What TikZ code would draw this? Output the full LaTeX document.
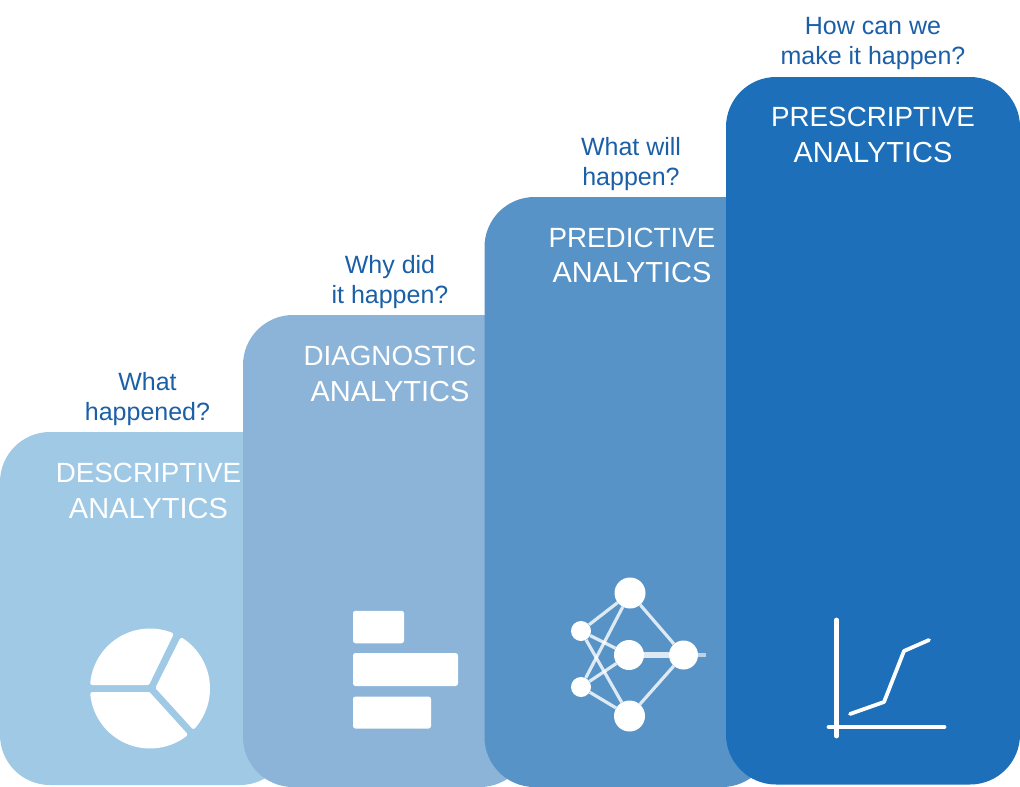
\documentclass[tikz,border=0pt]{standalone}
\usepackage{fontspec}
\setmainfont{Liberation Sans}
\definecolor{cA}{HTML}{9FC9E5}
\definecolor{cB}{HTML}{8BB4D8}
\definecolor{cC}{HTML}{5793C7}
\definecolor{cD}{HTML}{1C6FB8}
\definecolor{cQ}{HTML}{1B5FA6}
\newcommand{\wideword}[1]{{\fontsize{29}{35.5}\selectfont #1}}
\tikzset{
  bar/.style={draw=none,fill=white,rounded corners=2.5pt,inner sep=0pt},
  head/.style={text=white,align=center,font=\fontsize{27.8}{35.5}\selectfont,inner sep=0pt},
  ask/.style={text=cQ,align=center,font=\fontsize{25}{30}\selectfont,inner sep=0pt},
  neuron/.style={circle,fill=white,draw=none,inner sep=0pt},
  synapse/.style={draw=white,line width=3.2pt,opacity=.8},
  plotline/.style={draw=white,line width=3.8pt,line cap=round,line join=round},
  slice/.style={fill=white,draw=white,line width=4pt,line join=round}
}
\begin{document}
\begin{tikzpicture}[x=1pt,y=-1pt]
\useasboundingbox (0,0) rectangle (1020,787);
% stairs
\fill[cA,rounded corners=50pt] (0,432) rectangle (290,785);
\fill[cB,rounded corners=50pt] (243,315) rectangle (530,787);
\fill[cC,rounded corners=50pt] (484.5,197) rectangle (772,787);
\fill[cD,rounded corners=50pt] (726,77) rectangle (1020,784.5);
% headings
\node[head] (h1) at (148.5,491) {DESCRIPTIVE\\\wideword{ANALYTICS}};
\node[head] (h2) at (390,374) {DIAGNOSTIC\\\wideword{ANALYTICS}};
\node[head] (h3) at (632,255.5) {PREDICTIVE\\\wideword{ANALYTICS}};
\node[head] (h4) at (873,135) {PRESCRIPTIVE\\\wideword{ANALYTICS}};
% questions
\node[ask] (q1) at (147.5,399.5) {What\\happened?};
\node[ask] (q2) at (390,282.5) {Why did\\it happen?};
\node[ask] (q3) at (631,164.5) {What will\\happen?};
\node[ask] (q4) at (873,43) {How can we\\make it happen?};
% pie
\path[slice] (147.7,683) -- plot[domain=185.4:291.5,samples=30] ({150+58*cos(\x)},{688.5+58*sin(\x)}) -- cycle;
\path[slice] (157.7,687.6) -- plot[domain=-57:41.5,samples=30] ({150+58*cos(\x)},{688.5+58*sin(\x)}) -- cycle;
\path[slice] (148.6,694) -- plot[domain=52.5:174.5,samples=30] ({150+58*cos(\x)},{688.5+58*sin(\x)}) -- cycle;
% bars
\node[bar,minimum width=51pt,minimum height=32.5pt] (b1) at (378.5,627) {};
\node[bar,minimum width=105pt,minimum height=33pt] (b2) at (405.5,669.5) {};
\node[bar,minimum width=78pt,minimum height=32pt] (b3) at (392,712.5) {};
% network
\node[neuron,minimum size=31pt] (nt) at (630,593) {};
\node[neuron,minimum size=30pt] (nm) at (629,655) {};
\node[neuron,minimum size=29pt] (nr) at (683.5,655) {};
\node[neuron,minimum size=31pt] (nb) at (629.5,716) {};
\node[neuron,minimum size=20pt] (la) at (581,631) {};
\node[neuron,minimum size=20pt] (lb) at (581,687) {};
\coordinate (tail) at (706,655);
\foreach \u/\v in {la/nt,la/nm,la/nb,lb/nt,lb/nm,lb/nb,nt/nr,nb/nr}{
  \draw[synapse] (\u) -- (\v);
}
\draw[white,line width=6pt,opacity=.8] (nm) -- (nr);
\draw[white,line width=4pt,opacity=.6] (nr) -- (tail);
% chart
\coordinate (ya) at (836.5,620);
\coordinate (yb) at (836.5,736);
\coordinate (xa) at (829,727);
\coordinate (xb) at (944,727);
\coordinate (p1) at (850,714);
\coordinate (p2) at (884,702);
\coordinate (p3) at (904,651);
\coordinate (p4) at (929,640);
\draw[plotline,line width=4.8pt] (ya) -- (yb);
\draw[plotline,line width=4.8pt] (xa) -- (xb);
\draw[plotline] (p1) -- (p2) -- (p3) -- (p4);
\end{tikzpicture}
\end{document}
